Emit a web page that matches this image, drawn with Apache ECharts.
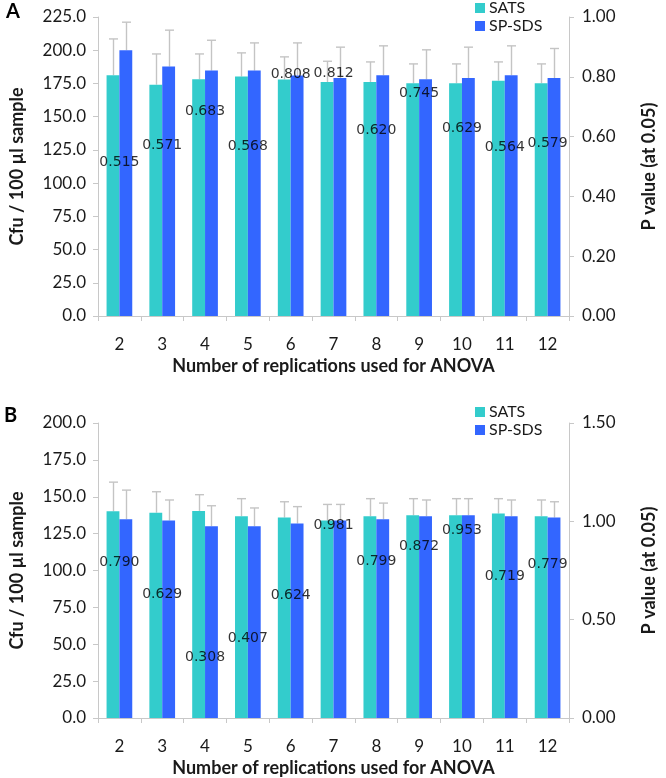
<!DOCTYPE html>
<html>
<head>
<meta charset="utf-8">
<script src="https://cdn.jsdelivr.net/npm/echarts@6/dist/echarts.min.js"></script>
<style>html,body{margin:0;padding:0;background:#fff}#c{width:666px;height:778px}</style>
</head>
<body>
<div id="c"></div>
<script>
const categories = ['2','3','4','5','6','7','8','9','10','11','12'];
// Panel A
const satsA    = [181.2,174.1,178.1,180.2,178.0,176.1,176.1,175.1,175.1,177.1,175.1];
const satsErrA = [27.3,23.1,19.1,17.8,17.0,15.6,15.1,14.6,14.6,14.1,14.6];
const spA      = [200.0,187.7,184.7,184.7,181.0,179.1,181.2,178.1,179.1,181.2,179.1];
const spErrA   = [21.1,27.4,22.8,20.8,24.5,23.2,22.1,22.2,23.2,22.1,22.2];
const pA       = [0.515,0.571,0.683,0.568,0.808,0.812,0.620,0.745,0.629,0.564,0.579];
// Panel B
const satsB    = [140.1,139.2,140.4,136.8,135.9,133.9,136.8,137.4,137.4,138.6,136.8];
const satsErrB = [19.8,14.2,11.0,11.9,10.7,10.9,11.9,11.3,11.3,10.1,11.0];
const spB      = [134.8,133.9,130.0,130.0,131.8,133.9,134.8,136.8,137.4,136.8,135.9];
const spErrB   = [19.7,13.9,13.9,12.4,11.5,10.9,10.9,11.0,11.3,11.0,10.7];
const pB       = [0.790,0.629,0.308,0.407,0.624,0.981,0.799,0.872,0.953,0.719,0.779];

const SATS_COLOR = '#33CCCC';
const SP_COLOR = '#3366FF';
const AXIS_COLOR = '#c8c8c8';
const TXT = '#1a1a1a';
const FONT = 'Lato';

function errSeries(xi, yi, sv, se, pv, pe) {
  return {
    type: 'custom', xAxisIndex: xi, yAxisIndex: yi, z: 1, silent: true,
    data: categories.map((c, i) => [i, sv[i], se[i], pv[i], pe[i]]),
    encode: { x: 0, y: 1 },
    renderItem: function (params, api) {
      const i = api.value(0);
      const band = api.size([1, 0])[0];
      const children = [];
      const items = [[api.value(1), api.value(2), -0.15], [api.value(3), api.value(4), 0.15]];
      items.forEach(function (it) {
        const base = api.coord([i, it[0]]);
        const top = api.coord([i, it[0] + it[1]]);
        const x = Math.round(base[0] + it[2] * band) + 0.5;
        const st = { stroke: '#c4c4c4', lineWidth: 1.4 };
        children.push({ type: 'line', shape: { x1: x, y1: base[1], x2: x, y2: top[1] }, style: st });
        children.push({ type: 'line', shape: { x1: x - 4.5, y1: top[1], x2: x + 4.5, y2: top[1] }, style: st });
      });
      return { type: 'group', children: children };
    }
  };
}

function barSeries(name, xi, yi, data, color) {
  return {
    name: name, type: 'bar', xAxisIndex: xi, yAxisIndex: yi, data: data,
    barWidth: '30%', barGap: '0%', z: 2,
    itemStyle: { color: color }
  };
}

function pSeries(xi, yi, data) {
  return {
    type: 'scatter', xAxisIndex: xi, yAxisIndex: yi, data: data, z: 5,
    symbolSize: 2, itemStyle: { color: 'rgba(0,0,0,0)' }, silent: true,
    label: {
      show: true, position: 'inside', color: '#000',
      fontFamily: 'DejaVu Sans', fontSize: 14,
      formatter: function (p) { return Number(p.value).toFixed(3); }
    }
  };
}

function xAxis(gi) {
  return {
    type: 'category', gridIndex: gi, data: categories,
    axisLine: { lineStyle: { color: AXIS_COLOR, width: 1 } },
    axisTick: { show: true, lineStyle: { color: AXIS_COLOR }, length: 5 },
    axisLabel: { color: TXT, fontFamily: FONT, fontSize: 17, margin: 20 },
    name: 'Number of replications used for ANOVA',
    nameLocation: 'middle', nameGap: 41,
    nameTextStyle: { color: TXT, fontFamily: FONT, fontWeight: 'bold', fontSize: 18 }
  };
}

function yLeft(gi, max) {
  return {
    type: 'value', gridIndex: gi, min: 0, max: max, interval: 25, position: 'left',
    axisLine: { show: true, lineStyle: { color: AXIS_COLOR } },
    axisTick: { show: true, length: 5, lineStyle: { color: AXIS_COLOR } },
    splitLine: { show: false },
    axisLabel: { color: TXT, fontFamily: FONT, fontSize: 17, margin: 12,
      formatter: function (v) { return v.toFixed(1); } },
    name: 'Cfu / 100 µl sample', nameLocation: 'middle', nameGap: 72,
    nameTextStyle: { color: TXT, fontFamily: FONT, fontWeight: 'bold', fontSize: 18 }
  };
}

function yRight(gi, max, interval) {
  return {
    type: 'value', gridIndex: gi, min: 0, max: max, interval: interval, position: 'right',
    axisLine: { show: true, lineStyle: { color: AXIS_COLOR } },
    axisTick: { show: true, length: 5, lineStyle: { color: AXIS_COLOR } },
    splitLine: { show: false },
    axisLabel: { color: TXT, fontFamily: FONT, fontSize: 17, margin: 13,
      formatter: function (v) { return v.toFixed(2); } },
    name: 'P value (at 0.05)', nameLocation: 'middle', nameGap: 71, nameRotate: 90,
    nameTextStyle: { color: TXT, fontFamily: FONT, fontWeight: 'bold', fontSize: 18 }
  };
}

function legend(top) {
  return {
    left: 475, top: top, orient: 'vertical', itemWidth: 10, itemHeight: 10, itemGap: 2,
    icon: 'rect', data: ['SATS', 'SP-SDS'],
    textStyle: { color: TXT, fontFamily: FONT, fontSize: 16, lineHeight: 14, padding: [0, 0, 0, -1] },
    padding: 0
  };
}

const chart = echarts.init(document.getElementById('c'), null, { renderer: 'canvas' });
chart.setOption({
  animation: false,
  backgroundColor: '#fff',
  textStyle: { fontFamily: FONT },
  grid: [
    { left: 95, right: 83, top: 17, height: 299 },
    { left: 95, right: 83, top: 423, height: 297 }
  ],
  legend: [legend(0), legend(404)],
  xAxis: [xAxis(0), xAxis(1)],
  yAxis: [yLeft(0, 225), yRight(0, 1, 0.2), yLeft(1, 200), yRight(1, 1.5, 0.5)],
  graphic: [
    { type: 'text', left: 6, top: 2, style: { text: 'A', fontFamily: FONT, fontWeight: 'bold', fontSize: 20, fill: '#000' } },
    { type: 'text', left: 4, top: 406, style: { text: 'B', fontFamily: FONT, fontWeight: 'bold', fontSize: 20, fill: '#000' } }
  ],
  series: [
    barSeries('SATS', 0, 0, satsA, SATS_COLOR),
    barSeries('SP-SDS', 0, 0, spA, SP_COLOR),
    errSeries(0, 0, satsA, satsErrA, spA, spErrA),
    pSeries(0, 1, pA),
    barSeries('SATS', 1, 2, satsB, SATS_COLOR),
    barSeries('SP-SDS', 1, 2, spB, SP_COLOR),
    errSeries(1, 2, satsB, satsErrB, spB, spErrB),
    pSeries(1, 3, pB)
  ]
});
</script>
</body>
</html>
